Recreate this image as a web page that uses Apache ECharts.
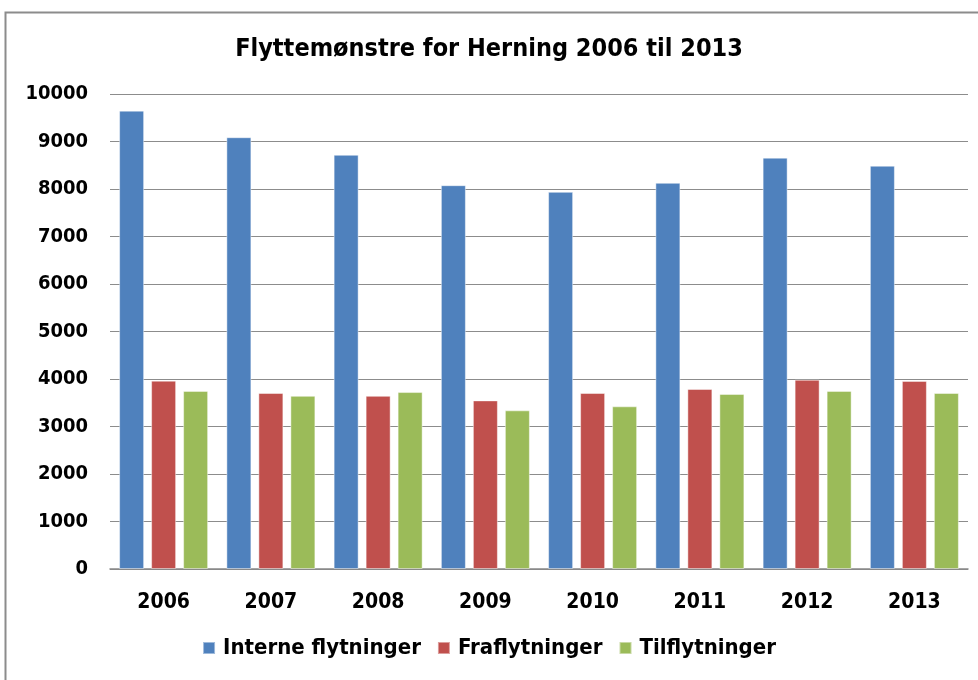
<!DOCTYPE html>
<html>
<head>
<meta charset="utf-8">
<script src="https://cdn.jsdelivr.net/npm/echarts@6/dist/echarts.min.js"></script>
<style>
  html, body { margin: 0; padding: 0; background: #fff; }
  #chart { width: 978px; height: 680px; }
</style>
</head>
<body>
<div id="chart"></div>
<script>
var years = ['2006', '2007', '2008', '2009', '2010', '2011', '2012', '2013'];
var interne = [9650, 9090, 8720, 8080, 7940, 8130, 8660, 8490];
var fraflyt = [3965, 3705, 3645, 3550, 3705, 3790, 3985, 3960];
var tilflyt = [3750, 3645, 3725, 3340, 3425, 3685, 3750, 3705];
var yTicks = [0, 1000, 2000, 3000, 4000, 5000, 6000, 7000, 8000, 9000, 10000];

var font = '"Liberation Sans Narrow", "DejaVu Sans Condensed", sans-serif';

var chart = echarts.init(document.getElementById('chart'));

function bar(name, data, color) {
  return {
    name: name,
    type: 'bar',
    data: data,
    barWidth: 25,
    barGap: '28%',
    itemStyle: { color: color, borderColor: 'rgba(255,255,255,0.45)', borderWidth: 1 }
  };
}

chart.setOption({
  animation: false,
  textStyle: { fontFamily: font },
  graphic: [{
    type: 'rect',
    shape: { x: 5.5, y: 12.5, width: 990, height: 700 },
    style: { fill: 'none', stroke: '#8c8c8c', lineWidth: 2 },
    silent: true
  }],
  title: {
    text: 'Flyttemønstre for Herning 2006 til 2013',
    left: 'center',
    top: 32,
    textStyle: { fontFamily: font, fontSize: 25, fontWeight: 'bold', color: '#000' }
  },
  legend: {
    bottom: 16,
    left: 'center',
    itemWidth: 12,
    itemHeight: 12,
    itemGap: 16,
    icon: 'rect',
    textStyle: { fontFamily: font, fontSize: 22, fontWeight: 'bold', color: '#000', padding: [0, 0, 0, 3] }
  },
  grid: { left: 110, right: 10, top: 94, bottom: 111 },
  xAxis: {
    type: 'category',
    data: years,
    axisLine: { lineStyle: { color: '#888', width: 1.5 } },
    axisTick: { show: false },
    axisLabel: { margin: 23, fontFamily: font, fontSize: 21, fontWeight: 'bold', color: '#000' }
  },
  yAxis: {
    type: 'value',
    min: 0,
    max: 10000,
    interval: 1000,
    axisLine: { show: false },
    axisTick: { show: false },
    splitLine: { lineStyle: { color: '#8c8c8c', width: 1 } },
    axisLabel: {
      margin: 22,
      fontFamily: font,
      fontSize: 20,
      fontWeight: 'bold',
      color: '#000',
      formatter: function (v) { return yTicks.indexOf(v) >= 0 ? String(v) : ''; }
    }
  },
  series: [
    bar('Interne flytninger', interne, '#4f81bd'),
    bar('Fraflytninger', fraflyt, '#c0504d'),
    bar('Tilflytninger', tilflyt, '#9bbb59')
  ]
});
</script>
</body>
</html>
